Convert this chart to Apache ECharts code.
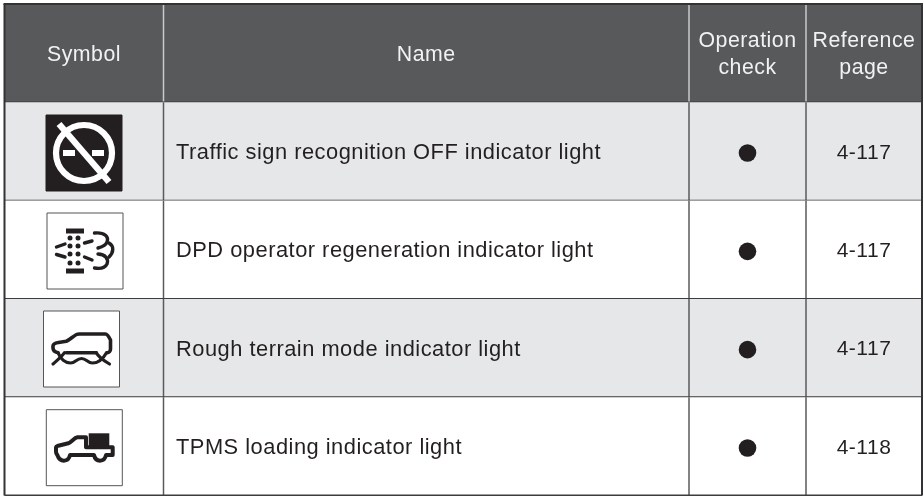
<!DOCTYPE html>
<html>
<head>
<meta charset="utf-8">
<style>html,body{margin:0;padding:0;background:#fff}#c{width:924px;height:496px}</style>
<script src="https://cdn.jsdelivr.net/npm/echarts@6/dist/echarts.min.js"></script>
</head>
<body>
<div id="c"></div>
<script>
// Helvetica-like tracking of the printed table
const origGetContext = HTMLCanvasElement.prototype.getContext;
HTMLCanvasElement.prototype.getContext = function () {
  const ctx = origGetContext.apply(this, arguments);
  if (ctx && 'letterSpacing' in ctx) ctx.letterSpacing = '0.5px';
  return ctx;
};

// ---- data ----
const columnHeaders = ['Symbol', 'Name', 'Operation\ncheck', 'Reference\npage'];
const indicatorNames = [
  'Traffic sign recognition OFF indicator light',
  'DPD operator regeneration indicator light',
  'Rough terrain mode indicator light',
  'TPMS loading indicator light'
];
const operationCheck = [1, 1, 1, 1];
const referencePages = ['4-117', '4-117', '4-117', '4-118'];
const iconKeys = ['sign', 'dpd', 'rough', 'tpms'];

// ---- layout & style (not data) ----
const rowKeys = ['header', '0', '1', '2', '3'];
const colEdges = [4.5, 163.5, 689, 806, 922];
const TOP = 4, BOTTOM = 495.5;
const FONT = '"Liberation Sans", Arial, sans-serif';
const FS_NAME = 21.85, FS_HEAD = 21.3, FS_PAGE = 21;
const INK = '#231f20', HEAD = '#58595b', SHADE = '#e6e7e8', RULE = '#3c3c3e', VRULE = '#5a5a5c', HSEP = '#c9cacb';
const TEXT_DY = 1.6;
const iconOrigin = [[46, 115], [47, 213], [43.5, 311], [46.3, 409.7]];

const stroke = (d, w) => ({ type: 'path', shape: { pathData: d },
  style: { fill: 'none', stroke: INK, lineWidth: w, lineCap: 'round', lineJoin: 'round' } });
const solid = d => ({ type: 'path', shape: { pathData: d }, style: { fill: INK, stroke: null } });
const bg = (fillC, strokeC) => ({ type: 'rect', shape: { x: 0, y: 0, width: 76, height: 76 },
  style: { fill: fillC, stroke: strokeC, lineWidth: 1 } });

const iconParts = {
  sign: () => [
    bg(INK, INK),
    { type: 'circle', shape: { cx: 38, cy: 38, r: 28 }, style: { fill: 'none', stroke: '#fff', lineWidth: 6.2 } },
    { type: 'path', shape: { pathData: 'M 13 9 L 63 67' }, style: { fill: 'none', stroke: '#fff', lineWidth: 6.4 } },
    { type: 'rect', shape: { x: 17, y: 35, width: 12, height: 6 }, style: { fill: '#fff' } },
    { type: 'rect', shape: { x: 46, y: 35, width: 12, height: 6 }, style: { fill: '#fff' } }
  ],
  dpd: () => {
    const dots = [];
    [23, 31].forEach(x => [25, 33, 41, 50].forEach(y =>
      dots.push({ type: 'circle', shape: { cx: x, cy: y, r: 2.5 }, style: { fill: INK } })));
    return [
      bg('#fff', '#555'),
      solid('M 19 15.5 H 37 V 20.5 H 19 Z'),
      solid('M 19 55.5 H 37 V 60.5 H 19 Z'),
      ...dots,
      stroke('M 9.5 34 L 18 31', 3.4),
      stroke('M 9.5 41.5 L 18 44', 3.4),
      stroke('M 37.5 30 L 45 28', 3.4),
      stroke('M 37.5 44 L 45 47', 3.4),
      stroke('M 47.5 20 C 58 19 62 24 60 29 C 59 32 55 34 51 35', 3.4),
      stroke('M 62 30 C 67 33 67 39 62 44', 3.4),
      stroke('M 51 41 C 58 41 62 46 60 51 C 58 55 53 56 47.5 55', 3.4)
    ];
  },
  rough: () => [
    bg('#fff', '#555'),
    stroke('M 14.5 41.7 C 11 41 9.5 39 9.5 37 L 9.5 35 C 9.5 33 12 32 15 31.5 L 22.8 30.2 C 26 29 30 25 33 23.5 C 34 23 35 23 36 23 L 62 23 C 64 23 65.5 26 67 29 L 67 38 C 67 40 65.5 41.7 63.8 41.7 M 22.8 41.7 L 52.8 41.7', 3.6),
    stroke('M 9.5 53 C 13 50 18 46 21 41.7', 3.2),
    stroke('M 14.5 41.7 C 17 48 22 52 27 52 C 32 52 33 47.5 38 47.5 C 43 47.5 44 52 49 52 C 55 52 60 47 63 41.7', 3.2),
    stroke('M 52.8 41.7 C 55 46 61 50 66 53', 3.2)
  ],
  tpms: () => [
    bg('#fff', '#555'),
    solid('M 42.4 23.6 H 63 V 38 H 42.4 Z'),
    stroke('M 11 45.3 C 10 44 9.7 43 9.7 42 L 9.7 38 C 9.7 37 10.5 36.5 12 36 L 22 33.6 C 25 32.5 28 28 31 27.6 L 39.7 27.6 L 39.7 37.6 L 66.4 37.6 L 66.4 45.3 L 59.7 45.3 C 59 49 57 51 53.7 51 C 50.5 51 48.5 49 47.7 45.3 L 23.7 45.3 C 23 49 21 51 17.5 51 C 14.5 51 12 48 11 45.3 Z', 4)
  ]
};

const center = i => (colEdges[i] + colEdges[i + 1]) / 2;
const label = (text, x, y, color, fs, align) => ({
  type: 'text', x, y,
  style: { text, fill: color, font: fs + 'px ' + FONT, align: align || 'center', verticalAlign: 'middle', lineHeight: 27 }
});

function renderRow(params, api) {
  const idx = params.dataIndex;
  const mid = api.coord([0, idx]);
  const h = api.size([0, 1])[1];
  const top = mid[1] - h / 2, y = mid[1] + TEXT_DY;
  const L = colEdges[0], R = colEdges[4], W = R - L;
  const kids = [];
  const rowIdx = idx - 1;
  if (idx === 0) {
    kids.push({ type: 'rect', shape: { x: L, y: top, width: W, height: h }, style: { fill: HEAD } });
    columnHeaders.forEach((t, i) => kids.push(label(t, center(i), mid[1] + 1.5, '#f1f2f2', FS_HEAD)));
    [1, 2, 3].forEach(i => kids.push({ type: 'line', shape: { x1: colEdges[i], y1: top, x2: colEdges[i], y2: top + h },
      style: { stroke: HSEP, lineWidth: 1.5 } }));
  } else {
    kids.push({ type: 'rect', shape: { x: L, y: top, width: W, height: h },
      style: { fill: rowIdx % 2 === 0 ? SHADE : '#fff' } });
    [1, 2, 3].forEach(i => kids.push({ type: 'line', shape: { x1: colEdges[i], y1: top, x2: colEdges[i], y2: top + h },
      style: { stroke: VRULE, lineWidth: 1.5 } }));
    const o = iconOrigin[rowIdx];
    kids.push({ type: 'group', x: o[0], y: o[1], children: iconParts[iconKeys[rowIdx]]() });
    kids.push(label(indicatorNames[rowIdx], colEdges[1] + 12.5, y, INK, FS_NAME, 'left'));
    if (operationCheck[rowIdx]) {
      kids.push({ type: 'circle', shape: { cx: center(2), cy: y, r: 8.8 }, style: { fill: INK } });
    }
    kids.push(label(referencePages[rowIdx], center(3), y, INK, FS_PAGE));
  }
  kids.push({ type: 'line', shape: { x1: L, y1: top + h, x2: R, y2: top + h }, style: { stroke: RULE, lineWidth: 1.8 } });
  return { type: 'group', children: kids };
}

function renderFrame(params, api) {
  const top = api.coord([0, 0])[1] - api.size([0, 1])[1] / 2;
  return { type: 'group', children: [
    { type: 'line', shape: { x1: colEdges[0] - 1, y1: top, x2: colEdges[4] + 1, y2: top }, style: { stroke: '#333335', lineWidth: 2 } },
    { type: 'line', shape: { x1: colEdges[0], y1: top, x2: colEdges[0], y2: BOTTOM }, style: { stroke: '#333335', lineWidth: 2 } },
    { type: 'line', shape: { x1: colEdges[4], y1: top, x2: colEdges[4], y2: BOTTOM }, style: { stroke: '#333335', lineWidth: 2 } }
  ] };
}

const chart = echarts.init(document.getElementById('c'));
chart.setOption({
  animation: false,
  backgroundColor: '#ffffff',
  grid: { left: 0, right: 0, top: TOP, bottom: 496 - BOTTOM },
  xAxis: { type: 'value', min: 0, max: 924, show: false },
  yAxis: { type: 'category', inverse: true, data: rowKeys, show: false },
  series: [
    { type: 'custom', coordinateSystem: 'cartesian2d', renderItem: renderRow, silent: true, clip: false,
      encode: { x: 1, y: 0 }, data: rowKeys.map(k => [k, 0]) },
    { type: 'custom', coordinateSystem: 'cartesian2d', renderItem: renderFrame, silent: true, clip: false, z: 5,
      encode: { x: 1, y: 0 }, data: [['header', 0]] }
  ]
});
</script>
</body>
</html>
